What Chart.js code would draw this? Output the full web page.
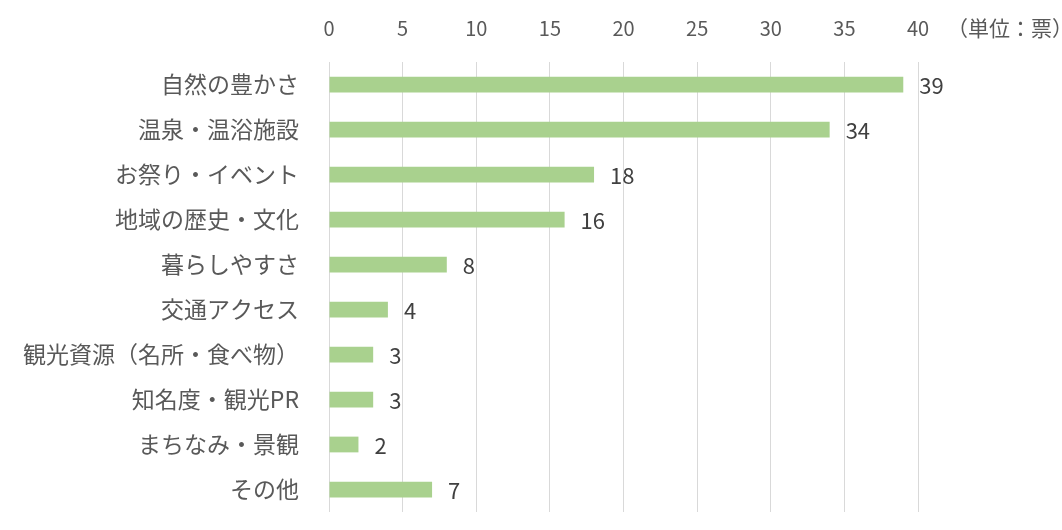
<!DOCTYPE html>
<html lang="ja">
<head>
<meta charset="utf-8">
<title>魅力に感じる点</title>
<script src="https://cdn.jsdelivr.net/npm/chart.js@4.4.1/dist/chart.umd.min.js"></script>
<style>
  html, body { margin: 0; padding: 0; background: #ffffff; }
  #wrap { width: 1062px; height: 530px; }
</style>
</head>
<body>
<div id="wrap"><canvas id="chart" width="1062" height="530"></canvas></div>
<script>
// 項目と票数
const categories = [
  '自然の豊かさ',
  '温泉・温浴施設',
  'お祭り・イベント',
  '地域の歴史・文化',
  '暮らしやすさ',
  '交通アクセス',
  '観光資源（名所・食べ物）',
  '知名度・観光PR',
  'まちなみ・景観',
  'その他'
];
const votes = [39, 34, 18, 16, 8, 4, 3, 3, 2, 7];
const unitLabel = '（単位：票）';
const axisMin = 0;
const axisMax = 40;
const axisStep = 5;

const JP_FONT = '"Noto Sans CJK JP", "Noto Sans", sans-serif';
const TEXT_GRAY = '#595959';

// 棒の右側に票数を表示
const valueLabels = {
  id: 'valueLabels',
  afterDatasetsDraw(chart) {
    const ctx = chart.ctx;
    const meta = chart.getDatasetMeta(0);
    ctx.save();
    ctx.font = '22px ' + JP_FONT;
    ctx.fillStyle = '#404040';
    ctx.textAlign = 'left';
    ctx.textBaseline = 'middle';
    meta.data.forEach((bar, i) => {
      ctx.fillText(String(chart.data.datasets[0].data[i]), bar.x + 16, bar.y + 1);
    });
    ctx.restore();
  }
};

// 目盛りの右に単位を表示
const unitText = {
  id: 'unitText',
  afterDraw(chart) {
    const ctx = chart.ctx;
    ctx.save();
    ctx.font = '21px ' + JP_FONT;
    ctx.fillStyle = TEXT_GRAY;
    ctx.textAlign = 'left';
    ctx.textBaseline = 'middle';
    ctx.fillText(unitLabel, chart.chartArea.right + 29, 28);
    ctx.restore();
  }
};

new Chart(document.getElementById('chart'), {
  type: 'bar',
  data: {
    labels: categories,
    datasets: [{
      data: votes,
      backgroundColor: '#a9d18e',
      borderWidth: 0,
      categoryPercentage: 1,
      barPercentage: 0.35
    }]
  },
  options: {
    indexAxis: 'y',
    responsive: false,
    animation: false,
    devicePixelRatio: 1,
    layout: { padding: { top: 0, right: 144, bottom: 18, left: 0 } },
    plugins: {
      legend: { display: false },
      tooltip: { enabled: false }
    },
    scales: {
      x: {
        position: 'top',
        min: axisMin,
        max: axisMax,
        afterFit(scale) { scale.height = 62; },
        ticks: {
          stepSize: axisStep,
          color: TEXT_GRAY,
          font: { family: JP_FONT, size: 20 },
          padding: 22
        },
        grid: { color: '#d9d9d9', lineWidth: 1, drawTicks: false },
        border: { display: false }
      },
      y: {
        afterFit(scale) {
          scale.width = 329;
          scale.paddingTop = 0;
          scale.paddingBottom = 0;
        },
        ticks: {
          color: TEXT_GRAY,
          font: { family: JP_FONT, size: 23 },
          padding: 22
        },
        grid: { display: false },
        border: { display: false }
      }
    }
  },
  plugins: [valueLabels, unitText]
});
</script>
</body>
</html>
